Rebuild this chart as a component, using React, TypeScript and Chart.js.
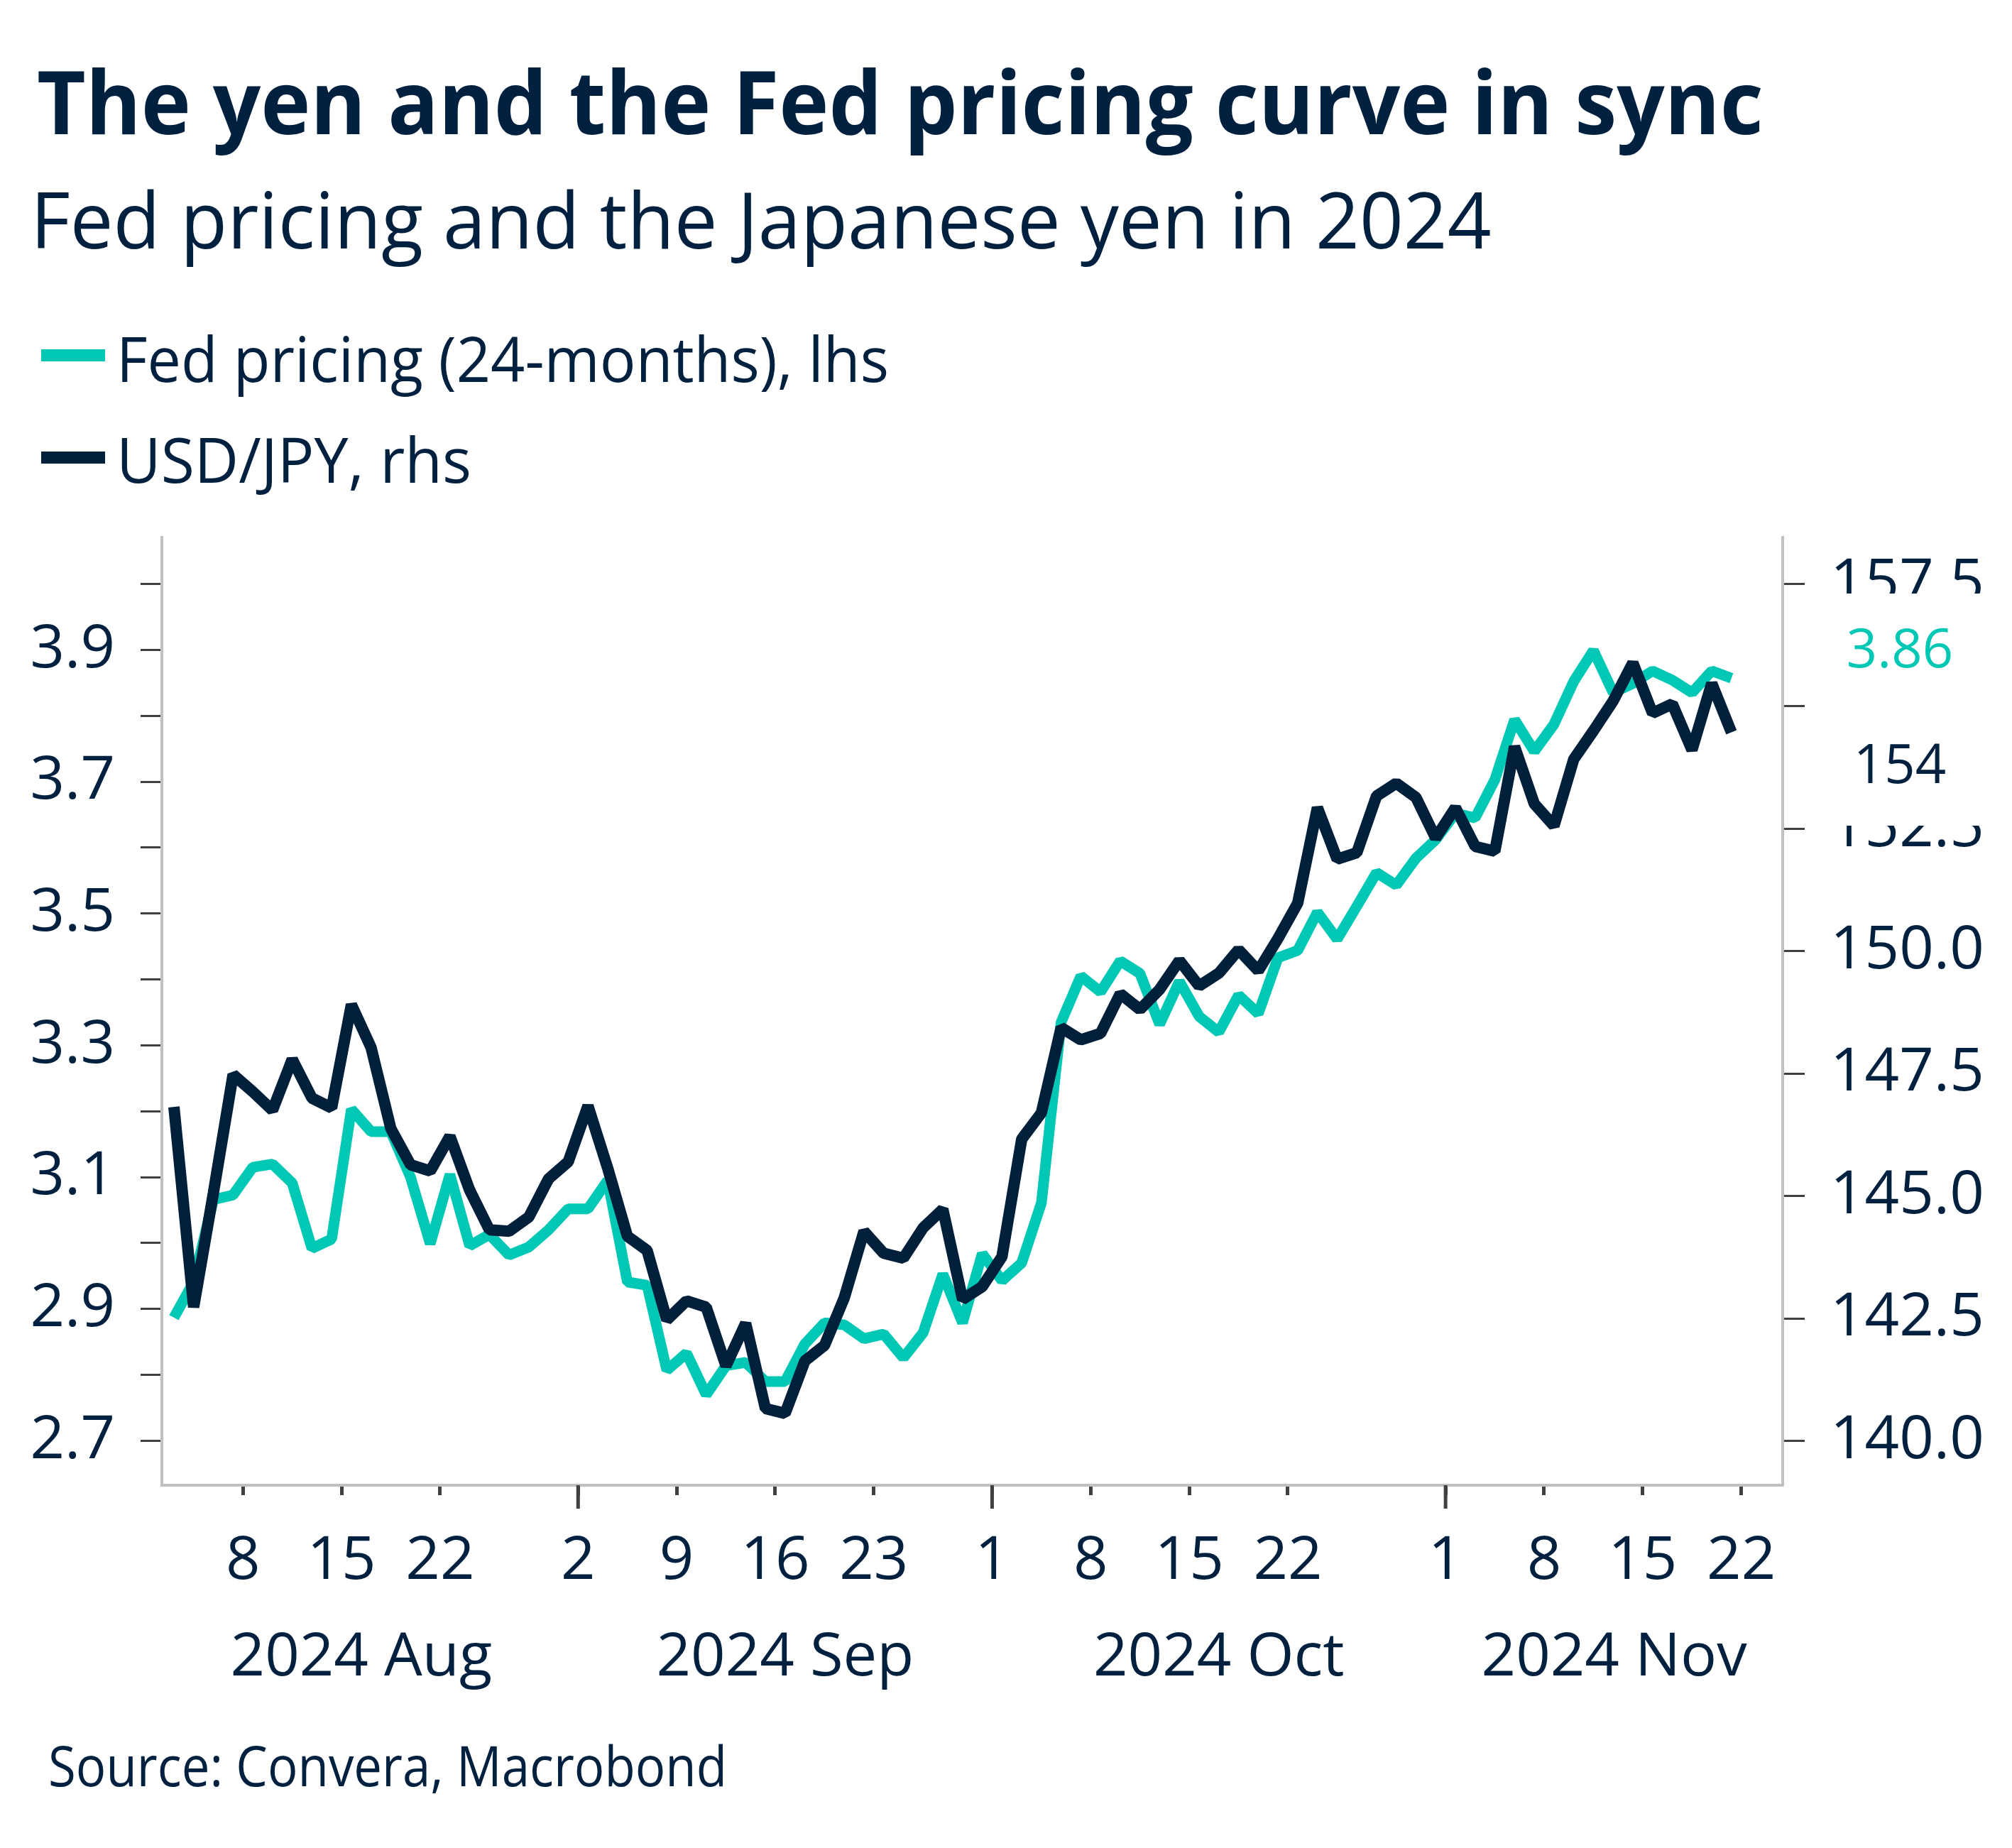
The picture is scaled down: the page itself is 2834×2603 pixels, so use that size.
import React, { useEffect, useLayoutEffect, useRef, useState } from 'react';
import { Chart, registerables } from 'chart.js';

Chart.register(...registerables);

// ---------- styling constants ----------
const NAVY = '#00203F';
const LINE_NAVY = '#001F3B';
const TEAL = '#00C8B5';
const AXIS_GRAY = '#C0C0C0';
const TICK_GRAY = '#404040';
const FONT = '"Open Sans", "Noto Sans", sans-serif';

// ---------- data ----------
const START_DATE = '2024-08-02'; // first business day of the series

// Fed pricing (24-months), lhs — one value per business day from START_DATE
const fedPricing = [
  2.887, 2.941, 3.066, 3.073, 3.115, 3.120, 3.091, 2.992, 3.006, 3.203,
  3.169, 3.169, 3.100, 2.999, 3.104, 2.996, 3.013, 2.982, 2.994, 3.020,
  3.052, 3.052, 3.095, 2.941, 2.936, 2.807, 2.833, 2.770, 2.814, 2.819,
  2.790, 2.790, 2.847, 2.879, 2.876, 2.855, 2.862, 2.826, 2.864, 2.953,
  2.879, 2.984, 2.943, 2.970, 3.061, 3.335, 3.405, 3.381, 3.428, 3.409,
  3.332, 3.397, 3.344, 3.320, 3.376, 3.348, 3.433, 3.444, 3.502, 3.461,
  3.511, 3.562, 3.543, 3.584, 3.612, 3.652, 3.645, 3.703, 3.794, 3.746,
  3.787, 3.852, 3.899, 3.835, 3.849, 3.868, 3.854, 3.835, 3.868, 3.857,
];

// USD/JPY, rhs
const usdJpy = [
  146.82, 142.73, 145.06, 147.48, 147.13, 146.75, 147.79, 147.00, 146.80, 148.91,
  148.03, 146.38, 145.64, 145.51, 146.22, 145.12, 144.31, 144.28, 144.57, 145.35,
  145.70, 146.84, 145.57, 144.18, 143.89, 142.47, 142.86, 142.73, 141.53, 142.40,
  140.66, 140.56, 141.63, 141.95, 142.92, 144.28, 143.83, 143.73, 144.35, 144.73,
  142.89, 143.15, 143.76, 146.16, 146.70, 148.44, 148.19, 148.32, 149.13, 148.81,
  149.22, 149.81, 149.29, 149.55, 150.03, 149.60, 150.26, 150.98, 152.93, 151.88,
  152.01, 153.17, 153.43, 153.14, 152.31, 152.93, 152.14, 152.04, 154.18, 153.01,
  152.56, 153.92, 154.50, 155.11, 155.89, 154.86, 155.05, 154.11, 155.47, 154.47,
];

// x-axis day ticks (tick sits at the start of the labelled day)
const dayTickDates = [
  '2024-08-08', '2024-08-15', '2024-08-22',
  '2024-09-02', '2024-09-09', '2024-09-16', '2024-09-23',
  '2024-10-01', '2024-10-08', '2024-10-15', '2024-10-22',
  '2024-11-01', '2024-11-08', '2024-11-15', '2024-11-22',
];
const dayTickLabels = ['8', '15', '22', '2', '9', '16', '23', '1', '8', '15', '22', '1', '8', '15', '22'];

// month boundaries and labels
const monthStartDates = ['2024-08-01', '2024-09-02', '2024-10-01', '2024-11-01', '2024-12-02'];
const monthLabels = ['2024 Aug', '2024 Sep', '2024 Oct', '2024 Nov'];

// y-axis ticks
const leftTickValues = [2.7, 2.8, 2.9, 3.0, 3.1, 3.2, 3.3, 3.4, 3.5, 3.6, 3.7, 3.8, 3.9, 4.0];
const leftTickLabels = ['2.7', '', '2.9', '', '3.1', '', '3.3', '', '3.5', '', '3.7', '', '3.9', ''];
const rightTickValues = [140, 142.5, 145, 147.5, 150, 152.5, 155, 157.5];
const rightTickLabels = ['140.0', '142.5', '145.0', '147.5', '150.0', '152.5', '155.0', '157.5'];

// axis ranges
const X_MIN = -0.612;
const X_MAX = 81.6;
const LEFT_MIN = 2.6327;
const LEFT_MAX = 4.0705;
const RIGHT_MIN = 139.094;
const RIGHT_MAX = 158.45;

// ---------- helpers ----------
const DAY_MS = 86400000;
function parseDate(d: string): number {
  const [y, m, dd] = d.split('-').map(Number);
  return Date.UTC(y, m - 1, dd);
}
function isBusinessDay(t: number): boolean {
  const wd = new Date(t).getUTCDay();
  return wd !== 0 && wd !== 6;
}
// signed number of business days from START_DATE to date
function bdOffset(date: string): number {
  const s = parseDate(START_DATE);
  const t = parseDate(date);
  const step = t >= s ? DAY_MS : -DAY_MS;
  let count = 0;
  for (let u = s; u !== t; u += step) {
    const next = u + step;
    if (isBusinessDay(next)) count += step > 0 ? 1 : -1;
  }
  return count;
}
function businessDays(start: string, n: number): string[] {
  const out: string[] = [];
  let t = parseDate(start);
  while (out.length < n) {
    if (isBusinessDay(t)) out.push(new Date(t).toISOString().slice(0, 10));
    t += DAY_MS;
  }
  return out;
}

const dates = businessDays(START_DATE, fedPricing.length);
const dayTickPositions = dayTickDates.map((d) => bdOffset(d) - 0.5);
const monthBoundaries = monthStartDates.map((d) => bdOffset(d) - 0.5);
const monthCenters = monthLabels.map((_, i) => (monthBoundaries[i] + Math.min(monthBoundaries[i + 1], X_MAX)) / 2);

// ---------- overlay plugin: long month ticks + last-value labels ----------
const overlayPlugin = {
  id: 'overlay',
  afterDraw(chart: any) {
    const { ctx, chartArea, scales } = chart;
    ctx.save();
    // long month ticks
    ctx.strokeStyle = TICK_GRAY;
    ctx.lineWidth = 5;
    monthBoundaries.forEach((v) => {
      if (v < scales.x.min || v > scales.x.max) return;
      const px = scales.x.getPixelForValue(v);
      ctx.beginPath();
      ctx.moveTo(px, chartArea.bottom);
      ctx.lineTo(px, chartArea.bottom + 33);
      ctx.stroke();
    });
    // last-value labels (spread apart when they would collide)
    const lv = fedPricing[fedPricing.length - 1];
    const rv = usdJpy[usdJpy.length - 1];
    let y1 = scales.y.getPixelForValue(lv);
    let y2 = scales.y1.getPixelForValue(rv);
    const sep = 163;
    const shift = 6;
    if (Math.abs(y2 - y1) < sep) {
      const mid = (y1 + y2) / 2 + shift;
      const s = y1 <= y2 ? 1 : -1;
      y1 = mid - (s * sep) / 2;
      y2 = mid + (s * sep) / 2;
    }
    const bx = Math.round(chartArea.right + 36);
    const bw = chart.width - bx;
    ctx.fillStyle = '#ffffff';
    if (Math.abs(y2 - y1) <= sep + 1) {
      const top = Math.floor(Math.min(y1, y2) - sep / 2);
      const bottom = Math.ceil(Math.max(y1, y2) + sep / 2);
      ctx.fillRect(bx, top, bw, bottom - top);
    } else {
      ctx.fillRect(bx, Math.floor(y1 - sep / 2), bw, Math.ceil(sep));
      ctx.fillRect(bx, Math.floor(y2 - sep / 2), bw, Math.ceil(sep));
    }
    ctx.font = `76px ${FONT}`;
    ctx.textAlign = 'center';
    ctx.textBaseline = 'middle';
    const cx = chartArea.right + 165;
    ctx.fillStyle = TEAL;
    ctx.fillText(String(Number(lv.toPrecision(3))), cx, y1);
    ctx.fillStyle = NAVY;
    ctx.fillText(String(Number(rv.toPrecision(3))), cx, y2);
    ctx.restore();
  },
};

// ---------- text helper (fits a measured width) ----------
function FitText(props: { text: string; left: number; top: number; width: number; size: number; weight?: number; color?: string }) {
  const { text, left, top, width, size, weight = 400, color = NAVY } = props;
  const ref = useRef<HTMLSpanElement>(null);
  const [scale, setScale] = useState(1);
  useLayoutEffect(() => {
    const el = ref.current;
    if (!el) return;
    const w = el.offsetWidth;
    if (w > 0) setScale(width / w);
  }, [text, width, size, weight]);
  return (
    <span
      ref={ref}
      style={{
        position: 'absolute',
        left,
        top,
        display: 'inline-block',
        whiteSpace: 'nowrap',
        fontFamily: FONT,
        fontSize: size,
        fontWeight: weight,
        lineHeight: 1,
        color,
        transform: `scaleX(${scale})`,
        transformOrigin: '0 0',
      }}
    >
      {text}
    </span>
  );
}

const CANVAS_TOP = 700;
const CANVAS_W = 2834;
const CANVAS_H = 1720;

export default function App() {
  const canvasRef = useRef<HTMLCanvasElement>(null);

  useEffect(() => {
    if (!canvasRef.current) return;
    const tickFont = { family: FONT, size: 85 };
    const chart = new Chart(canvasRef.current, {
      type: 'line',
      data: {
        datasets: [
          {
            label: 'USD/JPY, rhs',
            data: usdJpy.map((v, i) => ({ x: bdOffset(dates[i]), y: v })),
            yAxisID: 'y1',
            xAxisID: 'x',
            borderColor: LINE_NAVY,
            backgroundColor: LINE_NAVY,
            borderWidth: 16,
            borderJoinStyle: 'bevel',
            pointRadius: 0,
            tension: 0,
            fill: false,
            order: 0,
          },
          {
            label: 'Fed pricing (24-months), lhs',
            data: fedPricing.map((v, i) => ({ x: bdOffset(dates[i]), y: v })),
            yAxisID: 'y',
            xAxisID: 'x',
            borderColor: TEAL,
            backgroundColor: TEAL,
            borderWidth: 15,
            borderJoinStyle: 'bevel',
            pointRadius: 0,
            tension: 0,
            fill: false,
            order: 1,
          },
        ],
      },
      options: {
        animation: false,
        responsive: false,
        devicePixelRatio: 1,
        layout: { padding: { top: 57, left: 0, right: 0, bottom: 0 } },
        plugins: { legend: { display: false }, tooltip: { enabled: false }, title: { display: false } },
        scales: {
          x: {
            type: 'linear',
            position: 'bottom',
            weight: 0,
            min: X_MIN,
            max: X_MAX,
            afterBuildTicks: (s: any) => {
              s.ticks = dayTickPositions.map((v) => ({ value: v }));
            },
            ticks: {
              callback: (_v: any, i: number) => dayTickLabels[i],
              autoSkip: false,
              maxRotation: 0,
              minRotation: 0,
              font: tickFont,
              color: NAVY,
              padding: 43,
            },
            grid: { display: true, drawOnChartArea: false, drawTicks: true, tickLength: 14, tickWidth: 5, tickColor: TICK_GRAY },
            border: { display: true, color: AXIS_GRAY, width: 4 },
            afterFit: (s: any) => {
              s.height = 170;
              s.paddingLeft = 0;
              s.paddingRight = 0;
            },
          },
          x2: {
            type: 'linear',
            position: 'bottom',
            weight: 1,
            min: X_MIN,
            max: X_MAX,
            afterBuildTicks: (s: any) => {
              s.ticks = monthCenters.map((v) => ({ value: v }));
            },
            ticks: {
              callback: (_v: any, i: number) => monthLabels[i],
              autoSkip: false,
              maxRotation: 0,
              minRotation: 0,
              font: tickFont,
              color: NAVY,
              padding: 15,
            },
            grid: { display: false },
            border: { display: false },
            afterFit: (s: any) => {
              s.height = 158;
              s.paddingLeft = 0;
              s.paddingRight = 0;
            },
          },
          y: {
            type: 'linear',
            position: 'left',
            min: LEFT_MIN,
            max: LEFT_MAX,
            afterBuildTicks: (s: any) => {
              s.ticks = leftTickValues.map((v) => ({ value: v }));
            },
            ticks: {
              callback: (_v: any, i: number) => leftTickLabels[i],
              autoSkip: false,
              font: tickFont,
              color: NAVY,
              padding: 36,
            },
            grid: { display: true, drawOnChartArea: false, drawTicks: true, tickLength: 30, tickWidth: 3, tickColor: TICK_GRAY },
            border: { display: true, color: AXIS_GRAY, width: 4 },
            afterFit: (s: any) => {
              s.width = 228;
              s.paddingTop = 0;
              s.paddingBottom = 0;
            },
          },
          y1: {
            type: 'linear',
            position: 'right',
            min: RIGHT_MIN,
            max: RIGHT_MAX,
            afterBuildTicks: (s: any) => {
              s.ticks = rightTickValues.map((v) => ({ value: v }));
            },
            ticks: {
              callback: (_v: any, i: number) => rightTickLabels[i],
              autoSkip: false,
              font: tickFont,
              color: NAVY,
              padding: 36,
            },
            grid: { display: true, drawOnChartArea: false, drawTicks: true, tickLength: 31, tickWidth: 3, tickColor: TICK_GRAY },
            border: { display: true, color: AXIS_GRAY, width: 4 },
            afterFit: (s: any) => {
              s.width = CANVAS_W - 2511;
              s.paddingTop = 0;
              s.paddingBottom = 0;
            },
          },
        },
      } as any,
      plugins: [overlayPlugin],
    });
    return () => chart.destroy();
  }, []);

  return (
    <div
      style={{
        position: 'absolute',
        left: 0,
        top: 0,
        width: 2834,
        height: 2603,
        overflow: 'hidden',
        background: '#ffffff',
      }}
    >
      <FitText text="The yen and the Fed pricing curve in sync" left={52} top={79} width={2432} size={124} weight={700} />
      <FitText text="Fed pricing and the Japanese yen in 2024" left={43} top={252} width={2058} size={110} />

      <div style={{ position: 'absolute', left: 58, top: 492, width: 90, height: 17, background: TEAL }} />
      <FitText text="Fed pricing (24-months), lhs" left={164} top={461} width={1088} size={87} />
      <div style={{ position: 'absolute', left: 58, top: 636, width: 90, height: 17, background: LINE_NAVY }} />
      <FitText text="USD/JPY, rhs" left={164} top={603} width={500} size={87} />

      <canvas
        ref={canvasRef}
        width={CANVAS_W}
        height={CANVAS_H}
        style={{ position: 'absolute', left: 0, top: CANVAS_TOP, width: CANVAS_W, height: CANVAS_H }}
      />

      <FitText text="Source: Convera, Macrobond" left={68} top={2446} width={956} size={79} />
    </div>
  );
}
